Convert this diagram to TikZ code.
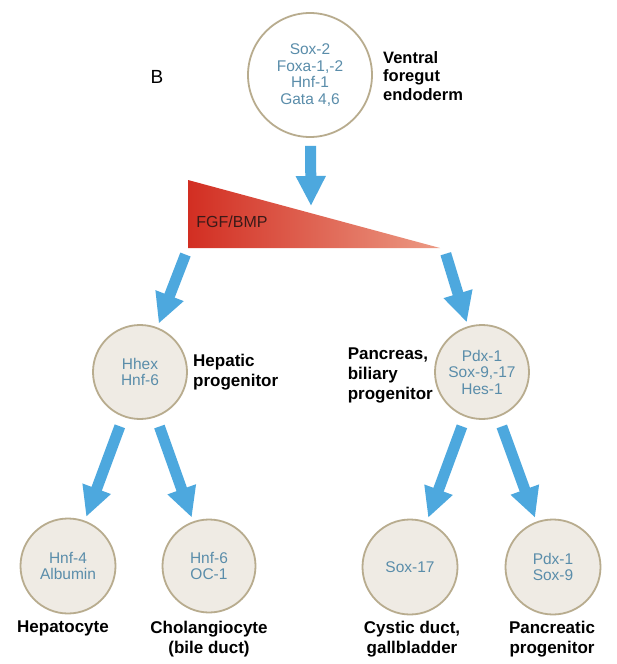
\documentclass[tikz,border=0pt]{standalone}
\usepackage{fontspec}
\setmainfont{Liberation Sans}
\usetikzlibrary{arrows.meta,calc}

\definecolor{cellline}{HTML}{B8AC8E}
\definecolor{cellfill}{HTML}{EFEBE4}
\definecolor{markerblue}{HTML}{5A8DAA}
\definecolor{flowblue}{HTML}{4DA8DE}
\definecolor{gradleft}{HTML}{D22E22}
\definecolor{gradright}{HTML}{EC9A84}
\definecolor{gradtext}{HTML}{3A1A18}

\begin{document}
\begin{tikzpicture}[x=1pt,y=-1pt,
  cell/.style={circle, draw=cellline, line width=1.8pt, fill=cellfill,
    inner sep=0pt, align=center, text=markerblue,
    font=\fontsize{15.5}{16.5}\selectfont},
  lbl/.style={font=\bfseries\fontsize{17}{20}\selectfont, inner sep=0pt},
  flow/.style={draw=flowblue, line width=11pt,
    -{Triangle[width=28pt,length=30pt]}}
]
\useasboundingbox (0,0) rectangle (617,664);
\fill[white] (0,0) rectangle (617,664);

% panel letter
\node[font=\fontsize{19}{20}\selectfont, inner sep=0pt] (panel) at (157,77) {B};

% ventral foregut endoderm
\node[cell, fill=white, minimum size=124pt] (top) at (310,75)
  {Sox-2\\Foxa-1,-2\\Hnf-1\\Gata 4,6};
\node[lbl, anchor=west, align=left, font=\bfseries\fontsize{16.5}{18.5}\selectfont]
  (toplbl) at (383,76) {Ventral\\foregut\\endoderm};

% FGF/BMP gradient wedge
\shade[left color=gradleft, right color=gradright]
  (188,180) -- (188,248) -- (440,248) -- cycle;
\node[text=gradtext, font=\fontsize{16}{16}\selectfont, inner sep=0pt]
  (fgf) at (232,222) {FGF/BMP};
\coordinate (gl) at (188,248);
\coordinate (gr) at (444,248);
\coordinate (gt) at (311,206);

% progenitors
\node[cell, minimum size=94pt] (hep) at (140,372) {Hhex\\Hnf-6};
\node[lbl, anchor=west, align=left] (heplbl) at (193,372) {Hepatic\\progenitor};

\node[cell, minimum size=94pt] (panc) at (482,372) {Pdx-1\\Sox-9,-17\\Hes-1};
\node[lbl, anchor=east, align=left] (panclbl) at (433,375) {Pancreas,\\biliary\\progenitor};

% differentiated cells
\node[cell, minimum size=95pt] (hepc) at (68,566) {Hnf-4\\Albumin};
\node[cell, minimum size=93pt] (chol) at (209,566) {Hnf-6\\OC-1};
\node[cell, minimum size=95pt] (cyst) at (410,567) {Sox-17};
\node[cell, minimum size=95pt] (pprog) at (553,567) {Pdx-1\\Sox-9};

\node[lbl, anchor=north, align=center] (hepclbl) at (63,621) {Hepatocyte};
\node[lbl, anchor=north, align=center] (chollbl) at (209,621) {Cholangiocyte\\(bile duct)};
\node[lbl, anchor=north, align=center] (cystlbl) at (412,621) {Cystic duct,\\gallbladder};
\node[lbl, anchor=north, align=center] (pproglbl) at (552,621) {Pancreatic\\progenitor};

% lineage arrows
\draw[flow, shorten <=8pt] (top) -- (gt);
\draw[flow, shorten <=7pt, shorten >=4pt] (gl) -- (hep);
\draw[flow, shorten <=6pt, shorten >=4pt] (gr) -- (panc);
\draw[flow, shorten <=10pt, shorten >=4pt] (hep) -- (hepc);
\draw[flow, shorten <=10pt, shorten >=4pt] (hep) -- (chol);
\draw[flow, shorten <=10pt, shorten >=4pt] (panc) -- (cyst);
\draw[flow, shorten <=10pt, shorten >=4pt] (panc) -- (pprog);
\end{tikzpicture}
\end{document}
